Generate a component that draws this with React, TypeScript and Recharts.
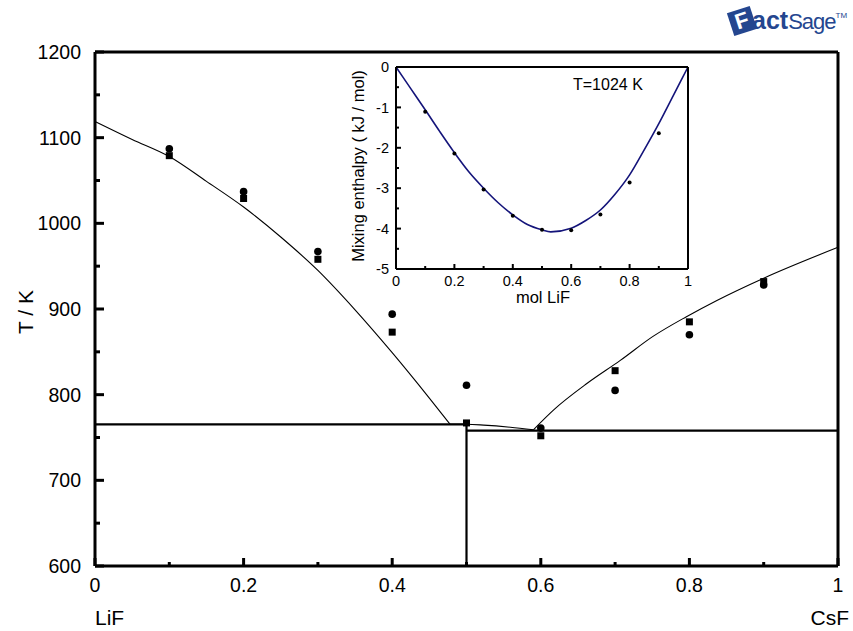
import { ComposedChart, Line, Scatter, XAxis, YAxis } from "recharts";

const FONT = "Arial, 'Liberation Sans', sans-serif";

// main phase diagram (x = mol fraction CsF, T in K)
const xTicks = [0, 0.1, 0.2, 0.3, 0.4, 0.5, 0.6, 0.7, 0.8, 0.9, 1];
const tTicks = [600, 650, 700, 750, 800, 850, 900, 950, 1000, 1050, 1100, 1150, 1200];

const liqLiF_x = [0, 0.05, 0.1, 0.15, 0.2, 0.25, 0.3, 0.35, 0.4, 0.45, 0.478];
const liqLiF_t = [1119, 1098, 1078, 1049, 1019, 984, 945, 899, 849, 796, 765.4];

const liqMid_x = [0.478, 0.5, 0.523, 0.559, 0.59];
const liqMid_t = [765.4, 765.4, 764.5, 762, 759];

const liqCsF_x = [0.59, 0.617, 0.662, 0.707, 0.751, 0.796, 0.837, 0.9, 1];
const liqCsF_t = [759, 782, 813, 840, 868, 891, 910, 936, 972];

const solidLeft_x = [0, 0.5];
const solidLeft_t = [765.4, 765.4];
const solidVert_x = [0.5, 0.5];
const solidVert_t = [765.4, 600];
const solidRight_x = [0.5, 1];
const solidRight_t = [758, 758];

const expX = [0.1, 0.2, 0.3, 0.4, 0.5, 0.6, 0.7, 0.8, 0.9];
const expCircleT = [1087, 1037, 967, 894, 811, 761, 805, 870, 928];
const expSquareT = [1079, 1029, 958, 873, 767, 752, 828, 885, 932];

// inset: mixing enthalpy at 1024 K
const hTicksX = [0, 0.1, 0.2, 0.3, 0.4, 0.5, 0.6, 0.7, 0.8, 0.9, 1];
const hTicksY = [-5, -4.5, -4, -3.5, -3, -2.5, -2, -1.5, -1, -0.5, 0];
const hCurveX = [0, 0.05, 0.1, 0.15, 0.2, 0.25, 0.3, 0.35, 0.4, 0.45, 0.5, 0.53, 0.6, 0.65, 0.7, 0.75, 0.8, 0.85, 0.9, 0.95, 1];
const hCurveY = [0, -0.53, -1.06, -1.6, -2.12, -2.6, -3.0, -3.36, -3.66, -3.9, -4.03, -4.08, -3.99, -3.8, -3.54, -3.15, -2.67, -2.05, -1.4, -0.7, 0];
const hExpX = [0.1, 0.2, 0.3, 0.4, 0.5, 0.6, 0.7, 0.8, 0.9];
const hExpY = [-1.11, -2.14, -3.03, -3.68, -4.03, -4.04, -3.65, -2.86, -1.64];

const pairs = (xs: number[], ys: number[]) => xs.map((x, i) => ({ x, y: ys[i] }));

const fmt = (v: number) => String(Number(v.toFixed(1)));

type TickOpts = {
  side: "bottom" | "top" | "left" | "right";
  isMajor: (v: number) => boolean;
  major: number;
  minor: number;
  width: number;
  label?: boolean;
  gap?: number;
  fontSize?: number;
};

// ticks point inward like the gnuplot original, minor ones shorter
function makeTick(o: TickOpts) {
  return (p: any) => {
    const x = Number(p.x);
    const y = Number(p.y);
    const v = Number(p.payload.value);
    const big = o.isMajor(v);
    const len = big ? o.major : o.minor;
    let x2 = x;
    let y2 = y;
    if (o.side === "bottom") y2 = y - len;
    else if (o.side === "top") y2 = y + len;
    else if (o.side === "left") x2 = x + len;
    else x2 = x - len;
    const gap = o.gap ?? 0;
    return (
      <g>
        <line x1={x} y1={y} x2={x2} y2={y2} stroke="#000" strokeWidth={o.width} />
        {o.label && big && o.side === "bottom" && (
          <text x={x} y={y + gap} textAnchor="middle" fill="#000" fontSize={o.fontSize} fontFamily={FONT}>
            {fmt(v)}
          </text>
        )}
        {o.label && big && o.side === "left" && (
          <text x={x - gap} y={y} dy="0.36em" textAnchor="end" fill="#000" fontSize={o.fontSize} fontFamily={FONT}>
            {fmt(v)}
          </text>
        )}
      </g>
    );
  };
}

const xMajor = (v: number) => Math.round(v * 10) % 2 === 0;
const tMajor = (v: number) => v % 100 === 0;
const hyMajor = (v: number) => Math.abs(v - Math.round(v)) < 1e-6;

function Circle(p: any) {
  return <circle cx={p.cx} cy={p.cy} r={3.8} fill="#000" />;
}
function Square(p: any) {
  return <rect x={p.cx - 3.5} y={p.cy - 3.5} width={7} height={7} fill="#000" />;
}
function Dot(p: any) {
  return <circle cx={p.cx} cy={p.cy} r={2} fill="#000" />;
}

function MainChart() {
  const axisLine = { stroke: "#000", strokeWidth: 3 };
  const mk = { xAxisId: "b", yAxisId: "l" };
  return (
    <ComposedChart width={853} height={631} margin={{ top: 42, right: 5, bottom: 35, left: 0 }}>
      <XAxis xAxisId="b" type="number" dataKey="x" domain={[0, 1]} ticks={xTicks} interval={0}
        orientation="bottom" height={30} tickSize={0} tickMargin={0} axisLine={axisLine} tickLine={false}
        tick={makeTick({ side: "bottom", isMajor: xMajor, major: 8, minor: 4, width: 3, label: true, gap: 26, fontSize: 19.5 })} />
      <XAxis xAxisId="t" type="number" dataKey="x" domain={[0, 1]} ticks={xTicks} interval={0}
        orientation="top" height={10} tickSize={0} tickMargin={0} axisLine={axisLine} tickLine={false}
        tick={makeTick({ side: "top", isMajor: xMajor, major: 8, minor: 4, width: 3 })} />
      <YAxis yAxisId="l" type="number" domain={[600, 1200]} ticks={tTicks} interval={0}
        orientation="left" width={95} tickSize={0} tickMargin={0} axisLine={axisLine} tickLine={false}
        tick={makeTick({ side: "left", isMajor: tMajor, major: 9, minor: 5, width: 3, label: true, gap: 14, fontSize: 19.5 })} />
      <YAxis yAxisId="r" type="number" domain={[600, 1200]} ticks={tTicks} interval={0}
        orientation="right" width={10} tickSize={0} tickMargin={0} axisLine={axisLine} tickLine={false}
        tick={makeTick({ side: "right", isMajor: tMajor, major: 9, minor: 5, width: 3 })} />

      <Line {...mk} data={pairs(liqLiF_x, liqLiF_t)} dataKey="y" type="monotone" stroke="#000" strokeWidth={1.1} dot={false} isAnimationActive={false} />
      <Line {...mk} data={pairs(liqMid_x, liqMid_t)} dataKey="y" type="monotone" stroke="#000" strokeWidth={1.1} dot={false} isAnimationActive={false} />
      <Line {...mk} data={pairs(liqCsF_x, liqCsF_t)} dataKey="y" type="monotone" stroke="#000" strokeWidth={1.1} dot={false} isAnimationActive={false} />
      <Line {...mk} data={pairs(solidLeft_x, solidLeft_t)} dataKey="y" type="linear" stroke="#000" strokeWidth={2.2} dot={false} isAnimationActive={false} />
      <Line {...mk} data={pairs(solidVert_x, solidVert_t)} dataKey="y" type="linear" stroke="#000" strokeWidth={2.2} dot={false} isAnimationActive={false} />
      <Line {...mk} data={pairs(solidRight_x, solidRight_t)} dataKey="y" type="linear" stroke="#000" strokeWidth={2.2} dot={false} isAnimationActive={false} />

      <Scatter {...mk} data={pairs(expX, expCircleT)} dataKey="y" shape={Circle} isAnimationActive={false} />
      <Scatter {...mk} data={pairs(expX, expSquareT)} dataKey="y" shape={Square} isAnimationActive={false} />
    </ComposedChart>
  );
}

function InsetChart() {
  const axisLine = { stroke: "#000", strokeWidth: 2 };
  const mk = { xAxisId: "b", yAxisId: "l" };
  return (
    <ComposedChart width={360} height={260} margin={{ top: 7, right: 2, bottom: 11, left: 0 }}>
      <XAxis xAxisId="b" type="number" dataKey="x" domain={[0, 1]} ticks={hTicksX} interval={0}
        orientation="bottom" height={30} tickSize={0} tickMargin={0} axisLine={axisLine} tickLine={false}
        tick={makeTick({ side: "bottom", isMajor: xMajor, major: 5, minor: 3, width: 2, label: true, gap: 17, fontSize: 14.5 })} />
      <XAxis xAxisId="t" type="number" dataKey="x" domain={[0, 1]} ticks={hTicksX} interval={0}
        orientation="top" height={10} tickSize={0} tickMargin={0} axisLine={axisLine} tickLine={false}
        tick={makeTick({ side: "top", isMajor: xMajor, major: 5, minor: 3, width: 2 })} />
      <YAxis yAxisId="l" type="number" domain={[-5, 0]} ticks={hTicksY} interval={0}
        orientation="left" width={56} tickSize={0} tickMargin={0} axisLine={axisLine} tickLine={false}
        tick={makeTick({ side: "left", isMajor: hyMajor, major: 5, minor: 3, width: 2, label: true, gap: 7, fontSize: 14.5 })} />
      <YAxis yAxisId="r" type="number" domain={[-5, 0]} ticks={hTicksY} interval={0}
        orientation="right" width={10} tickSize={0} tickMargin={0} axisLine={axisLine} tickLine={false}
        tick={makeTick({ side: "right", isMajor: hyMajor, major: 5, minor: 3, width: 2 })} />

      <Line {...mk} data={pairs(hCurveX, hCurveY)} dataKey="y" type="monotone" stroke="#14147a" strokeWidth={1.6} dot={false} isAnimationActive={false} />
      <Scatter {...mk} data={pairs(hExpX, hExpY)} dataKey="y" shape={Dot} isAnimationActive={false} />
    </ComposedChart>
  );
}

const abs = (left: number, top: number, extra: any = {}) => ({
  position: "absolute" as const,
  left,
  top,
  fontFamily: FONT,
  color: "#000",
  whiteSpace: "nowrap" as const,
  lineHeight: 1,
  ...extra,
});

export default function App() {
  return (
    <div style={{ position: "absolute", left: 0, top: 0, width: 853, height: 631, background: "#fff", overflow: "hidden" }}>
      <div style={{ position: "absolute", left: 0, top: 0 }}>
        <MainChart />
      </div>
      <div style={{ position: "absolute", left: 340, top: 50 }}>
        <InsetChart />
      </div>

      <div style={abs(25, 312, { fontSize: 21, transform: "translate(-50%, -50%) rotate(-90deg)" })}>T / K</div>
      <div style={abs(95, 607, { fontSize: 21 })}>LiF</div>
      <div style={abs(849, 607, { fontSize: 21, transform: "translateX(-100%)" })}>CsF</div>

      <div style={abs(358, 166, { fontSize: 16.5, transform: "translate(-50%, -50%) rotate(-90deg)" })}>
        Mixing enthalpy ( kJ / mol)
      </div>
      <div style={abs(543, 297, { fontSize: 16.5, transform: "translate(-50%, -50%)" })}>mol LiF</div>
      <div style={abs(573, 77, { fontSize: 16 })}>T=1024 K</div>

      <div style={abs(730, 8, { color: "#24468f", display: "flex", alignItems: "flex-end" })}>
        <span style={{ display: "inline-block", width: 24, height: 24, background: "#24468f", transform: "rotate(-18deg)", color: "#fff", fontWeight: 900, fontSize: 22, textAlign: "center", lineHeight: "24px" }}>F</span>
        <span style={{ fontWeight: 900, fontSize: 25, marginLeft: -2 }}>act</span>
        <span style={{ fontSize: 22, fontStretch: "condensed", letterSpacing: -1 }}>Sage</span>
        <span style={{ fontSize: 8, alignSelf: "flex-start", marginTop: 4 }}>TM</span>
      </div>
    </div>
  );
}
